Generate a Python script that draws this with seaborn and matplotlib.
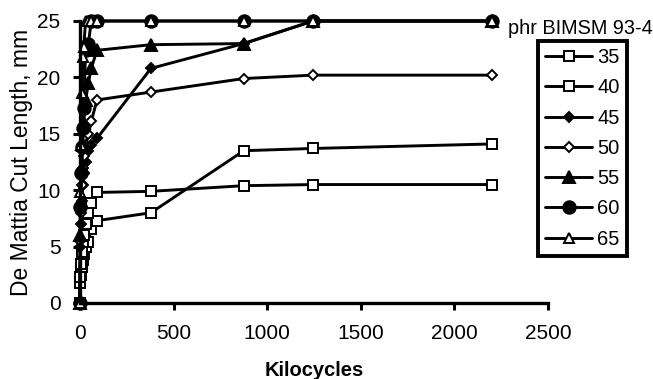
import matplotlib
matplotlib.use("Agg")
import matplotlib.pyplot as plt
import seaborn as sns
import pandas as pd

# Kilocycles at which cut length was read
kilocycles = [0, 2, 5, 10, 15, 20, 30, 45, 60, 91, 379, 875, 1245, 2200]

# De Mattia cut length (mm) per phr BIMSM 93-4 level
cut_35 = [0, 1.8, 2.5, 3.2, 3.8, 4.3, 5.0, 5.4, 6.6, 7.3, 8.0, 13.5, 13.7, 14.1]
cut_40 = [0, 2.3, 3.5, 4.5, 5.4, 6.0, 7.0, 8.0, 8.9, 9.8, 9.9, 10.4, 10.5, 10.5]
cut_45 = [0, 5.0, 7.0, 9.0, 10.5, 11.5, 12.5, 13.5, 14.0, 14.6, 20.8, 23.0, 25, 25]
cut_50 = [0, 5.5, 8.0, 10.5, 12.0, 13.0, 14.0, 15.0, 16.1, 18.0, 18.7, 19.9, 20.2, 20.2]
cut_55 = [0, 6.0, 9.0, 12.0, 14.0, 16.0, 18.0, 19.5, 20.8, 22.4, 22.9, 23.0, 25, 25]
cut_60 = [0, 8.5, 11.5, 13.8, 15.5, 17.3, 22.4, 23.0, 25, 25, 25, 25, 25, 25]
cut_65 = [0, 9.8, 14.0, 18.6, 21.8, 22.7, 25, 25, 25, 25, 25, 25, 25, 25]

series_labels = ["35", "40", "45", "50", "55", "60", "65"]
series_values = [cut_35, cut_40, cut_45, cut_50, cut_55, cut_60, cut_65]

x_ticks = [0, 500, 1000, 1500, 2000, 2500]
y_ticks = [0, 5, 10, 15, 20, 25]

rows = []
for lab, vals in zip(series_labels, series_values):
    for k, v in zip(kilocycles, vals):
        rows.append({"phr": lab, "Kilocycles": k, "Cut": v})
df = pd.DataFrame(rows)

sns.set_style("ticks")
plt.rcParams["font.family"] = ["Liberation Sans", "DejaVu Sans"]
plt.rcParams.update({"text.color": "black", "axes.labelcolor": "black",
                     "xtick.color": "black", "ytick.color": "black"})

styles = {
    "35": dict(marker="s", markersize=7, markerfacecolor="white"),
    "40": dict(marker="s", markersize=7, markerfacecolor="white"),
    "45": dict(marker="D", markersize=4.8, markerfacecolor="black"),
    "50": dict(marker="D", markersize=4.8, markerfacecolor="white"),
    "55": dict(marker="^", markersize=8, markerfacecolor="black"),
    "60": dict(marker="o", markersize=9, markerfacecolor="black"),
    "65": dict(marker="^", markersize=6.5, markerfacecolor="white"),
}

fig = plt.figure(figsize=(6.53, 3.79), dpi=100)
ax = fig.add_axes([80 / 653, 1 - 303 / 379, (548 - 80) / 653, (303 - 21) / 379])

for lab in series_labels:
    sub = df[df["phr"] == lab]
    sns.lineplot(data=sub, x="Kilocycles", y="Cut", ax=ax, color="black",
                 linewidth=2.1, markeredgecolor="black", markeredgewidth=1.4,
                 label=lab, legend=False, estimator=None, sort=False,
                 **styles[lab])

for ln in ax.lines:
    ln.set_clip_on(False)

ax.set_xlim(0, 2500)
ax.set_ylim(0, 25)
ax.set_xticks(x_ticks)
ax.set_yticks(y_ticks)
ax.tick_params(axis="x", labelsize=15, length=5, width=2.2, color="black",
               labelcolor="black", direction="out", pad=10)
ax.tick_params(axis="y", labelsize=15, length=5, width=2.2, color="black",
               labelcolor="black", direction="out", pad=9)
for s in ["top", "right"]:
    ax.spines[s].set_visible(False)
for s in ["left", "bottom"]:
    ax.spines[s].set_linewidth(2.4)
    ax.spines[s].set_color("black")

ax.set_xlabel("Kilocycles", fontsize=14.5, fontweight="bold", color="black")
ax.xaxis.set_label_coords(0.5, (303 - 361) / 282)
ax.set_ylabel("De Mattia Cut Length, mm", fontsize=16.5, color="black")
ax.yaxis.set_label_coords((33 - 80) / 468, 0.5)

handles = ax.get_lines()
leg = fig.legend(handles, series_labels, loc="upper left",
                 bbox_to_anchor=(538 / 653, 1 - 41 / 379),
                 bbox_transform=fig.transFigure, frameon=True,
                 fancybox=False, framealpha=1, fontsize=14.5,
                 handlelength=2.35, handletextpad=0.25, labelspacing=0.56,
                 borderpad=0.35, borderaxespad=0, labelcolor="black")
leg.get_frame().set_edgecolor("black")
leg.get_frame().set_linewidth(2.8)

fig.text(508 / 653, 1 - 28 / 379, "phr BIMSM 93-4", fontsize=14.3,
         ha="left", va="center", color="black")

fig.savefig("out.png", dpi=100)
